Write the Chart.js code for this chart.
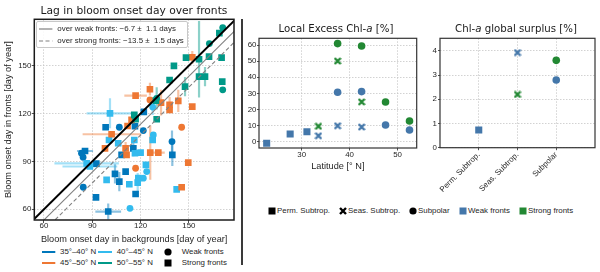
<!DOCTYPE html>
<html>
<head>
<meta charset="utf-8">
<script src="https://cdn.jsdelivr.net/npm/chart.js@4.4.1/dist/chart.umd.min.js"></script>
<style>
  body { margin: 0; width: 600px; height: 272px; position: relative; overflow: hidden; background: #fff;
    font-family: "Liberation Sans", Arial, sans-serif; color: #262626; }
  canvas { position: absolute; top: 0; }
  .title { position: absolute; transform: translateX(-50%); white-space: nowrap; font-family: "DejaVu Sans", sans-serif; line-height: 13px; color: #1a1a1a; }
  .lbl { position: absolute; white-space: pre; font-size: 7.9px; line-height: 10px; }
  svg { position: absolute; overflow: visible; }
  .lagbox { position: absolute; left: 36px; top: 20.7px; width: 152px; height: 27.6px; box-sizing: border-box;
    border: 0.8px solid #c8c8c8; border-radius: 2px; background: rgba(255, 255, 255, 0.85); }
  .sep { position: absolute; left: 241.3px; top: 19px; width: 1.4px; height: 246px; background: #3a3a3a; }
</style>
</head>
<body>
<canvas id="lagChart" width="243" height="246" style="left:0"></canvas>
<canvas id="excessChart" width="180" height="180" style="left:243px"></canvas>
<canvas id="surplusChart" width="177" height="200" style="left:423px"></canvas>

<div class="title" style="left:134px;top:4px;font-size:10.7px">Lag in bloom onset day over fronts</div>
<div class="title" style="left:336px;top:22px;font-size:10.2px">Local Excess Chl-<i>a</i> [%]</div>
<div class="title" style="left:516px;top:22px;font-size:10.2px">Chl-<i>a</i> global surplus [%]</div>

<div class="lagbox"></div>
<svg style="left:39.3px;top:29px" width="14" height="1"><line x1="0" y1="0" x2="13.4" y2="0" stroke="#808080" stroke-width="1.2"/></svg>
<div class="lbl" style="left:57.3px;top:24px">over weak fronts: −6.7 ±  1.1 days</div>
<svg style="left:39.3px;top:40.5px" width="14" height="1"><line x1="0" y1="0" x2="13.4" y2="0" stroke="#808080" stroke-width="1.2" stroke-dasharray="4 2.5"/></svg>
<div class="lbl" style="left:57.3px;top:35.5px">over strong fronts: −13.5 ±  1.5 days</div>

<div class="sep"></div>

<svg style="left:41.7px;top:252.3px" width="14" height="1"><line x1="0" y1="0" x2="13.3" y2="0" stroke="#0077BB" stroke-width="2"/></svg>
<div class="lbl" style="left:60px;top:247.3px">35°–40° N</div>
<svg style="left:98px;top:252.3px" width="14" height="1"><line x1="0" y1="0" x2="14" y2="0" stroke="#33BBEE" stroke-width="2"/></svg>
<div class="lbl" style="left:116.7px;top:247.3px">40°–45° N</div>
<svg style="left:168.3px;top:252.3px" width="1" height="1"><circle cx="0" cy="0" r="3.6" fill="#000"/></svg>
<div class="lbl" style="left:181.7px;top:247.3px">Weak fronts</div>
<svg style="left:41.7px;top:262.7px" width="14" height="1"><line x1="0" y1="0" x2="13.3" y2="0" stroke="#EE7733" stroke-width="2"/></svg>
<div class="lbl" style="left:60px;top:257.7px">45°–50° N</div>
<svg style="left:98px;top:262.7px" width="14" height="1"><line x1="0" y1="0" x2="14" y2="0" stroke="#009988" stroke-width="2"/></svg>
<div class="lbl" style="left:116.7px;top:257.7px">50°–55° N</div>
<svg style="left:168.3px;top:262.7px" width="1" height="1"><rect x="-3.5" y="-3.5" width="7" height="7" fill="#000"/></svg>
<div class="lbl" style="left:181.7px;top:257.7px">Strong fronts</div>

<svg style="left:271.5px;top:211px" width="1" height="1"><rect x="-3.5" y="-3.5" width="7" height="7" fill="#000"/></svg>
<div class="lbl" style="left:277px;top:206px">Perm. Subtrop.</div>
<svg style="left:342.5px;top:211px" width="1" height="1"><path d="M-3 -3L3 3M-3 3L3 -3" stroke="#000" stroke-width="2.4"/></svg>
<div class="lbl" style="left:348px;top:206px">Seas. Subtrop.</div>
<svg style="left:412.5px;top:211px" width="1" height="1"><circle cx="0" cy="0" r="3.6" fill="#000"/></svg>
<div class="lbl" style="left:418px;top:206px">Subpolar</div>
<svg style="left:462.5px;top:211px" width="1" height="1"><rect x="-3.5" y="-3.5" width="7" height="7" fill="#4477AA"/></svg>
<div class="lbl" style="left:468px;top:206px">Weak fronts</div>
<svg style="left:522.5px;top:211px" width="1" height="1"><rect x="-3.5" y="-3.5" width="7" height="7" fill="#228833"/></svg>
<div class="lbl" style="left:528px;top:206px">Strong fronts</div>

<script>
// bloom onset days [background, front, xErr, yErr] per latitude band
const lat35Weak = [
  [106.8, 111.4, 0, 0], [121.7, 109.3, 0, 0], [139.5, 102.4, 0, 7], [83.3, 95.1, 0, 0],
  [84.3, 92.6, 0, 0], [84.4, 73.8, 0, 0]
];
const lat35Strong = [
  [98.3, 111.4, 0, 0], [116.5, 112.0, 0, 0], [122.0, 121.0, 0, 0], [85.5, 96.5, 5, 0],
  [108.2, 94.1, 0, 0], [115.5, 98.2, 0, 5], [139.7, 94.1, 0, 7], [92.5, 88.6, 0, 0],
  [104.1, 82.2, 0, 6], [110.7, 83.6, 0, 0], [106.8, 77.3, 0, 6], [116.9, 69.6, 0, 0],
  [92.3, 67.5, 0, 0], [99.9, 58.6, 8, 5]
];
const lat40Weak = [
  [113.4, 60.6, 0, 0], [127.5, 124.0, 0, 5], [127.9, 106.6, 0, 0], [121.7, 79.5, 0, 0],
  [123.8, 83.6, 0, 0]
];
const lat40Strong = [
  [101.0, 120.1, 14.5, 9.4], [100.4, 103.4, 0, 0], [106.1, 101.4, 0, 0], [116.1, 103.4, 0, 0],
  [116.5, 95.1, 0, 0], [86.5, 88.8, 20, 0], [88.5, 86.8, 17, 0], [98.9, 78.4, 0, 0],
  [113.0, 75.7, 0, 0], [118.2, 76.7, 0, 6], [118.6, 79.5, 0, 0], [123.3, 87.8, 0, 0],
  [127.5, 103.4, 0, 0], [142.4, 72.5, 0, 0], [120.0, 95.5, 0, 0]
];
const lat45Weak = [[125.8, 128.5, 0, 0], [145.5, 111.4, 0, 0], [116.9, 85.7, 0, 0]];
const lat45Strong = [
  [152.1, 155.2, 0, 4], [116.9, 131.2, 7, 0], [125.8, 135.2, 0, 4], [132.7, 126.8, 0, 8],
  [138.0, 125.4, 0, 5], [143.4, 127.9, 0, 7], [138.0, 122.2, 0, 0], [152.1, 124.3, 0, 0],
  [114.4, 116.0, 0, 0], [111.9, 112.2, 0, 0], [102.0, 107.0, 18, 0], [97.9, 98.2, 0, 0],
  [110.7, 98.2, 0, 4], [111.3, 94.1, 0, 0], [126.0, 95.5, 0, 17], [131.0, 95.5, 4, 0],
  [149.6, 89.2, 0, 0], [145.5, 73.8, 0, 0]
];
const lat50Weak = [[171.0, 134.8, 0, 0], [171.0, 173.8, 0, 0], [162.7, 163.8, 0, 0], [130.0, 129.5, 0, 7]];
const lat50Strong = [
  [140.7, 149.8, 0, 0], [148.2, 155.0, 0, 0], [156.3, 154.0, 0, 24], [162.5, 155.6, 0, 0],
  [170.3, 155.0, 0, 0], [168.9, 170.3, 0, 0], [156.3, 143.1, 0, 0], [160.0, 143.1, 0, 6],
  [147.6, 136.8, 0, 6], [170.7, 140.0, 0, 0], [138.0, 141.0, 0, 0], [129.5, 128.1, 0, 0],
  [116.1, 119.1, 0, 0], [116.9, 116.4, 0, 0], [130.0, 116.4, 0, 0]
];
const lagWeak = -6.7;
const lagStrong = -13.5;
const dayTicks = [60, 90, 120, 150];

// local excess Chl-a [%] by latitude
const permWeakLat = [22.7, 27.6, 31.1];
const permWeakExcess = [-1.0, 4.8, 6.2];
const seasWeakLat = [33.5, 37.5, 42.5];
const seasWeakExcess = [3.7, 9.9, 9.1];
const seasStrongLat = [33.5, 37.5, 42.5];
const seasStrongExcess = [9.6, 50.1, 24.7];
const polarWeakLat = [37.5, 42.5, 47.5, 52.5];
const polarWeakExcess = [30.7, 31.1, 10.4, 7.3];
const polarStrongLat = [37.5, 42.5, 47.5, 52.5];
const polarStrongExcess = [60.9, 59.4, 24.7, 12.9];
const latTicks = [30, 40, 50];
const excessTicks = [0, 10, 20, 30, 40, 50, 60];

// global surplus [%] by regime
const regimes = ["Perm. Subtrop.", "Seas. Subtrop.", "Subpolar"];
const surplusWeak = [0.73, 3.93, 2.8];
const surplusStrong = [null, 2.2, 3.61];
const surplusTicks = [0, 1, 2, 3, 4];

const WEAK = "#4477AA";
const STRONG = "#228833";

function xMarker(color) {
  const c = document.createElement("canvas");
  c.width = c.height = 8;
  const g = c.getContext("2d");
  g.strokeStyle = color;
  g.lineWidth = 2.4;
  g.beginPath();
  g.moveTo(1, 1); g.lineTo(7, 7);
  g.moveTo(1, 7); g.lineTo(7, 1);
  g.stroke();
  return c;
}

const frame = {
  id: "frame",
  afterDraw(chart, args, opts) {
    const { ctx, chartArea: a } = chart;
    ctx.save();
    ctx.strokeStyle = opts.color;
    ctx.lineWidth = opts.width;
    ctx.strokeRect(a.left, a.top, a.right - a.left, a.bottom - a.top);
    ctx.restore();
  }
};

const errorBars = {
  id: "errorBars",
  beforeDatasetsDraw(chart) {
    const { ctx, chartArea: a, scales: { x, y } } = chart;
    ctx.save();
    ctx.beginPath();
    ctx.rect(a.left, a.top, a.right - a.left, a.bottom - a.top);
    ctx.clip();
    ctx.lineWidth = 2.2;
    chart.data.datasets.forEach((ds) => {
      if (!ds.barColor) return;
      ctx.strokeStyle = ds.barColor;
      ds.data.forEach((p) => {
        const px = x.getPixelForValue(p.x);
        const py = y.getPixelForValue(p.y);
        ctx.beginPath();
        if (p.xe) {
          ctx.moveTo(x.getPixelForValue(p.x - p.xe), py);
          ctx.lineTo(x.getPixelForValue(p.x + p.xe), py);
        }
        if (p.ye) {
          ctx.moveTo(px, y.getPixelForValue(p.y - p.ye));
          ctx.lineTo(px, y.getPixelForValue(p.y + p.ye));
        }
        ctx.stroke();
      });
    });
    ctx.restore();
  }
};

function axis({ min, max, ticks, size, tickPad = 0, tickLen = 3, title, titlePad, label, rotate = 0 }) {
  const cfg = {
    type: "linear",
    min,
    max,
    afterBuildTicks: (s) => { s.ticks = ticks.map((value) => ({ value })); },
    afterFit: (s) => {
      if (s.isHorizontal()) { s.height = size; s.paddingLeft = 0; s.paddingRight = 0; }
      else { s.width = size; s.paddingTop = 0; s.paddingBottom = 0; }
    },
    grid: { color: "#c6c6c6", lineWidth: 0.8, tickColor: "#262626", tickLength: tickLen, tickWidth: 0.8 },
    border: { display: false, dash: [1.5, 1.5] },
    ticks: { padding: tickPad, autoSkip: false, minRotation: rotate, maxRotation: rotate, font: { size: 7.9, lineHeight: 1 }, color: "#262626" },
    title: { display: false }
  };
  if (label) cfg.ticks.callback = label;
  if (title) cfg.title = { display: true, text: title, font: { size: 9.2 }, padding: titlePad, color: "#262626" };
  return cfg;
}

const common = {
  responsive: false,
  animation: false,
  devicePixelRatio: 1,
  events: []
};

Chart.defaults.font.family = '"Liberation Sans", Arial, sans-serif';

function pts(rows) {
  return rows.map(([x, y, xe, ye]) => ({ x, y, xe, ye }));
}

const bands = [
  { color: "#0077BB", bar: "rgba(0,119,187,0.45)", weak: lat35Weak, strong: lat35Strong },
  { color: "#33BBEE", bar: "rgba(51,187,238,0.45)", weak: lat40Weak, strong: lat40Strong },
  { color: "#EE7733", bar: "rgba(238,119,51,0.45)", weak: lat45Weak, strong: lat45Strong },
  { color: "#009988", bar: "rgba(0,153,136,0.45)", weak: lat50Weak, strong: lat50Strong }
];

const dayMin = 54;
const dayMax = 178;
const diag = (lag) => [{ x: dayMin - 30, y: dayMin - 30 + lag }, { x: dayMax + 30, y: dayMax + 30 + lag }];

const lagSets = [];
bands.forEach((b, i) => {
  lagSets.push({ type: "scatter", data: pts(b.strong), backgroundColor: b.color, borderWidth: 0, pointStyle: "rect", pointRadius: 4.7, barColor: b.bar, order: 100 - 2 * i });
  lagSets.push({ type: "scatter", data: pts(b.weak), backgroundColor: b.color, borderWidth: 0, pointStyle: "circle", pointRadius: 3.4, barColor: b.bar, order: 99 - 2 * i });
});
lagSets.push({ type: "line", data: diag(0), borderColor: "#000", borderWidth: 2, pointRadius: 0, order: 0 });
lagSets.push({ type: "line", data: diag(lagWeak), borderColor: "#808080", borderWidth: 1.1, pointRadius: 0, order: 1 });
lagSets.push({ type: "line", data: diag(lagStrong), borderColor: "#808080", borderWidth: 1.1, borderDash: [4, 2.5], pointRadius: 0, order: 1 });

new Chart(document.getElementById("lagChart"), {
  type: "scatter",
  data: { datasets: lagSets },
  plugins: [errorBars, frame],
  options: {
    ...common,
    layout: { padding: { top: 19.3, right: 9, left: 0, bottom: 0 } },
    plugins: { legend: { display: false }, tooltip: { enabled: false }, frame: { color: "#1a1a1a", width: 1.5 } },
    scales: {
      x: axis({ min: dayMin, max: dayMax, ticks: dayTicks, size: 26, tickPad: -1.5, tickLen: 3,
        title: "Bloom onset day in backgrounds [day of year]", titlePad: { top: 0, bottom: 1.5 } }),
      y: axis({ min: 53.3, max: 179, ticks: dayTicks, size: 34.3, tickPad: 0.5, tickLen: 2.5,
        title: "Bloom onset day in fronts [day of year]", titlePad: { top: 2.8, bottom: 0 } })
    }
  }
});

const toXY = (xs, ys) => xs.map((x, i) => ({ x, y: ys[i] }));

new Chart(document.getElementById("excessChart"), {
  type: "scatter",
  data: {
    datasets: [
      { data: toXY(permWeakLat, permWeakExcess), backgroundColor: WEAK, borderWidth: 0, pointStyle: "rect", pointRadius: 5 },
      { data: toXY(seasWeakLat, seasWeakExcess), pointStyle: xMarker(WEAK) },
      { data: toXY(seasStrongLat, seasStrongExcess), pointStyle: xMarker(STRONG) },
      { data: toXY(polarWeakLat, polarWeakExcess), backgroundColor: WEAK, borderWidth: 0, pointStyle: "circle", pointRadius: 3.8 },
      { data: toXY(polarStrongLat, polarStrongExcess), backgroundColor: STRONG, borderWidth: 0, pointStyle: "circle", pointRadius: 3.8 }
    ]
  },
  plugins: [frame],
  options: {
    ...common,
    layout: { padding: { top: 38.3, right: 6.3, left: 0, bottom: 0 } },
    plugins: { legend: { display: false }, tooltip: { enabled: false }, frame: { color: "#333", width: 1.2 } },
    scales: {
      x: axis({ min: 21.1, max: 54, ticks: latTicks, size: 32, tickPad: 0.5, tickLen: 2.5,
        title: "Latitude [° N]", titlePad: { top: 0, bottom: 8.5 } }),
      y: axis({ min: -3.9, max: 64.2, ticks: excessTicks, size: 16, tickPad: 0.5, tickLen: 2 })
    }
  }
});

const regimeStyle = (color) => [
  { pointStyle: "rect", pointRadius: 5 },
  { pointStyle: xMarker(color), pointRadius: 4 },
  { pointStyle: "circle", pointRadius: 3.8 }
];

function surplusSet(values, color) {
  const styles = regimeStyle(color);
  const idx = values.map((v, i) => i).filter((i) => values[i] !== null);
  return {
    data: idx.map((i) => ({ x: i, y: values[i] })),
    backgroundColor: color,
    borderWidth: 0,
    pointStyle: idx.map((i) => styles[i].pointStyle),
    pointRadius: idx.map((i) => styles[i].pointRadius)
  };
}

new Chart(document.getElementById("surplusChart"), {
  type: "scatter",
  data: { datasets: [surplusSet(surplusWeak, WEAK), surplusSet(surplusStrong, STRONG)] },
  plugins: [frame],
  options: {
    ...common,
    layout: { padding: { top: 38.3, right: 5, left: 0, bottom: 0 } },
    plugins: { legend: { display: false }, tooltip: { enabled: false }, frame: { color: "#333", width: 1.2 } },
    scales: {
      x: axis({ min: -1, max: 3, ticks: [0, 1, 2], size: 52.3, tickPad: 0.5, tickLen: 2.5, rotate: 45,
        label: (v) => regimes[v] }),
      y: axis({ min: 0, max: 4.52, ticks: surplusTicks, size: 17, tickPad: 1, tickLen: 2 })
    }
  }
});
</script>
</body>
</html>
